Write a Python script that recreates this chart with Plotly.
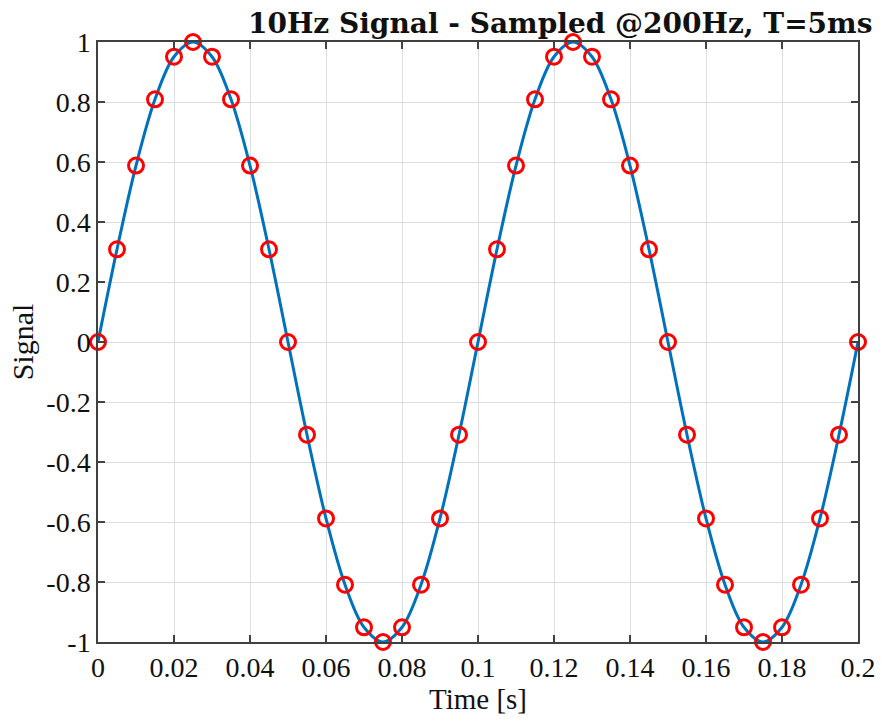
import plotly.graph_objects as go

# Sample times (s) and sampled signal values
t_samples = [0.000, 0.005, 0.010, 0.015, 0.020, 0.025, 0.030, 0.035, 0.040, 0.045,
             0.050, 0.055, 0.060, 0.065, 0.070, 0.075, 0.080, 0.085, 0.090, 0.095,
             0.100, 0.105, 0.110, 0.115, 0.120, 0.125, 0.130, 0.135, 0.140, 0.145,
             0.150, 0.155, 0.160, 0.165, 0.170, 0.175, 0.180, 0.185, 0.190, 0.195,
             0.200]
y_samples = [0.0, 0.309, 0.588, 0.809, 0.951, 1.0, 0.951, 0.809, 0.588, 0.309,
             0.0, -0.309, -0.588, -0.809, -0.951, -1.0, -0.951, -0.809, -0.588, -0.309,
             0.0, 0.309, 0.588, 0.809, 0.951, 1.0, 0.951, 0.809, 0.588, 0.309,
             0.0, -0.309, -0.588, -0.809, -0.951, -1.0, -0.951, -0.809, -0.588, -0.309,
             0.0]

x_tickvals = [0, 0.02, 0.04, 0.06, 0.08, 0.1, 0.12, 0.14, 0.16, 0.18, 0.2]
x_ticktext = ["0", "0.02", "0.04", "0.06", "0.08", "0.1", "0.12", "0.14", "0.16", "0.18", "0.2"]
y_tickvals = [-1, -0.8, -0.6, -0.4, -0.2, 0, 0.2, 0.4, 0.6, 0.8, 1]
y_ticktext = ["-1", "-0.8", "-0.6", "-0.4", "-0.2", "0", "0.2", "0.4", "0.6", "0.8", "1"]

title_text = "10Hz Signal - Sampled @200Hz, T=5ms"
x_label = "Time [s]"
y_label = "Signal"

FONT = "Liberation Serif"
AXC = "#404040"

fig = go.Figure()
fig.add_trace(go.Scatter(
    x=t_samples, y=y_samples, mode="lines",
    line=dict(color="#0072BD", width=3, shape="spline", smoothing=1.0),
    cliponaxis=False, showlegend=False, hoverinfo="skip"))
fig.add_trace(go.Scatter(
    x=t_samples, y=y_samples, mode="markers",
    marker=dict(symbol="circle-open", size=15, color="#FF0000", line=dict(width=3, color="#FF0000")),
    cliponaxis=False, showlegend=False))

axis_common = dict(
    showgrid=True, gridcolor="#dedede", gridwidth=1,
    showline=True, linecolor=AXC, linewidth=1.5, mirror="ticks",
    ticks="inside", ticklen=7, tickcolor=AXC, tickwidth=1.5,
    zeroline=False, automargin=False,
    tickfont=dict(family=FONT, size=28, color="#111111"),
)

fig.update_xaxes(range=[0, 0.2], tickvals=x_tickvals, ticktext=x_ticktext,
                 title=dict(text=x_label, font=dict(family=FONT, size=29, color="#111111"), standoff=6),
                 **axis_common)
fig.update_yaxes(range=[-1, 1], tickvals=y_tickvals, ticktext=y_ticktext,
                 title=dict(text=y_label, font=dict(family=FONT, size=30, color="#111111"), standoff=4),
                 **axis_common)

fig.update_layout(
    width=884, height=719,
    margin=dict(l=98, r=26, t=42, b=77),
    paper_bgcolor="white", plot_bgcolor="white",
    title=dict(text="<b>" + title_text + "</b>", x=0.987, xanchor="right", xref="container",
               y=1 - 23 / 719, yanchor="middle", yref="container",
               font=dict(family="DejaVu Serif", size=28, color="#111111")),
)

fig.write_html("out.html")
